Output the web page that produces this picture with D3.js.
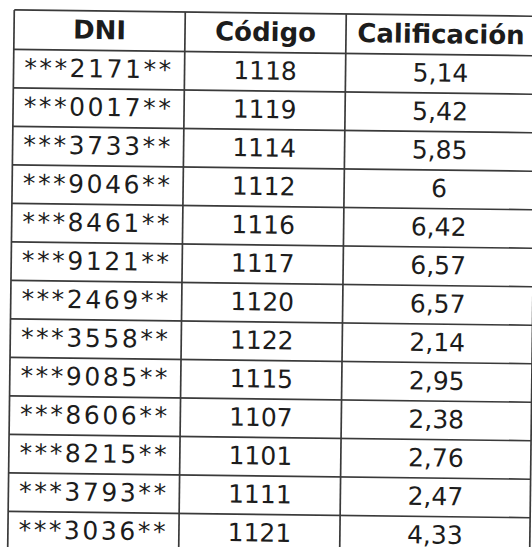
<!DOCTYPE html>
<html>
<head>
<meta charset="utf-8">
<script src="https://cdn.jsdelivr.net/npm/d3@7"></script>
<style>
  html, body { margin: 0; padding: 0; background: #ffffff; }
  svg { display: block; }
</style>
</head>
<body>
<svg id="chart" width="532" height="547"></svg>
<script>
// ---- data ----
const headers = ["DNI", "Código", "Calificación"];
const dni = ["***2171**", "***0017**", "***3733**", "***9046**", "***8461**", "***9121**", "***2469**",
             "***3558**", "***9085**", "***8606**", "***8215**", "***3793**", "***3036**"];
const codigo = ["1118", "1119", "1114", "1112", "1116", "1117", "1120",
                "1122", "1115", "1107", "1101", "1111", "1121"];
const calificacion = ["5,14", "5,42", "5,85", "6", "6,42", "6,57", "6,57",
                      "2,14", "2,95", "2,38", "2,76", "2,47", "4,33"];

// ---- layout ----
const colEdges = [11, 182, 343, 533];
const tableTop = 13, headerH = 39.5, rowH = 38.5;
const lineColor = "#3a3a3a", textColor = "#1c1c1c";

const svg = d3.select("#chart");
const g = svg.append("g").attr("transform", "rotate(0.7, 266, 280)");

const rows = d3.range(dni.length);
const y = d3.scaleBand().domain(rows).range([tableTop + headerH, tableTop + headerH + rowH * rows.length]);
const colCenter = i => (colEdges[i] + colEdges[i + 1]) / 2;
const columns = [dni, codigo, calificacion];

// header text
g.selectAll("text.head").data(headers).join("text")
  .attr("class", "head")
  .attr("x", (d, i) => colCenter(i))
  .attr("y", tableTop + 28)
  .attr("text-anchor", "middle")
  .attr("font-family", "DejaVu Sans, Verdana, sans-serif")
  .attr("font-weight", "bold")
  .attr("font-size", 26)
  .attr("fill", textColor)
  .text(d => d);

// body text
columns.forEach((col, ci) => {
  g.selectAll("text.c" + ci).data(col).join("text")
    .attr("class", "c" + ci)
    .attr("x", colCenter(ci))
    .attr("y", (d, i) => y(i) + 27)
    .attr("text-anchor", "middle")
    .attr("font-family", "DejaVu Sans, Verdana, sans-serif")
    .attr("font-size", 25)
    .attr("letter-spacing", ci === 0 ? 2.6 : 0)
    .attr("fill", textColor)
    .text(d => d);
});

// grid lines
const tableBottom = y.range()[1];
const hLines = [tableTop, tableTop + headerH].concat(rows.map(i => y(i) + rowH));
g.selectAll("line.h").data(hLines).join("line")
  .attr("class", "h")
  .attr("x1", colEdges[0]).attr("x2", colEdges[3])
  .attr("y1", d => d).attr("y2", d => d)
  .attr("stroke", lineColor).attr("stroke-width", 1.7);
g.selectAll("line.v").data(colEdges).join("line")
  .attr("class", "v")
  .attr("x1", d => d).attr("x2", d => d)
  .attr("y1", tableTop).attr("y2", tableBottom)
  .attr("stroke", lineColor).attr("stroke-width", 1.7);
</script>
</body>
</html>
